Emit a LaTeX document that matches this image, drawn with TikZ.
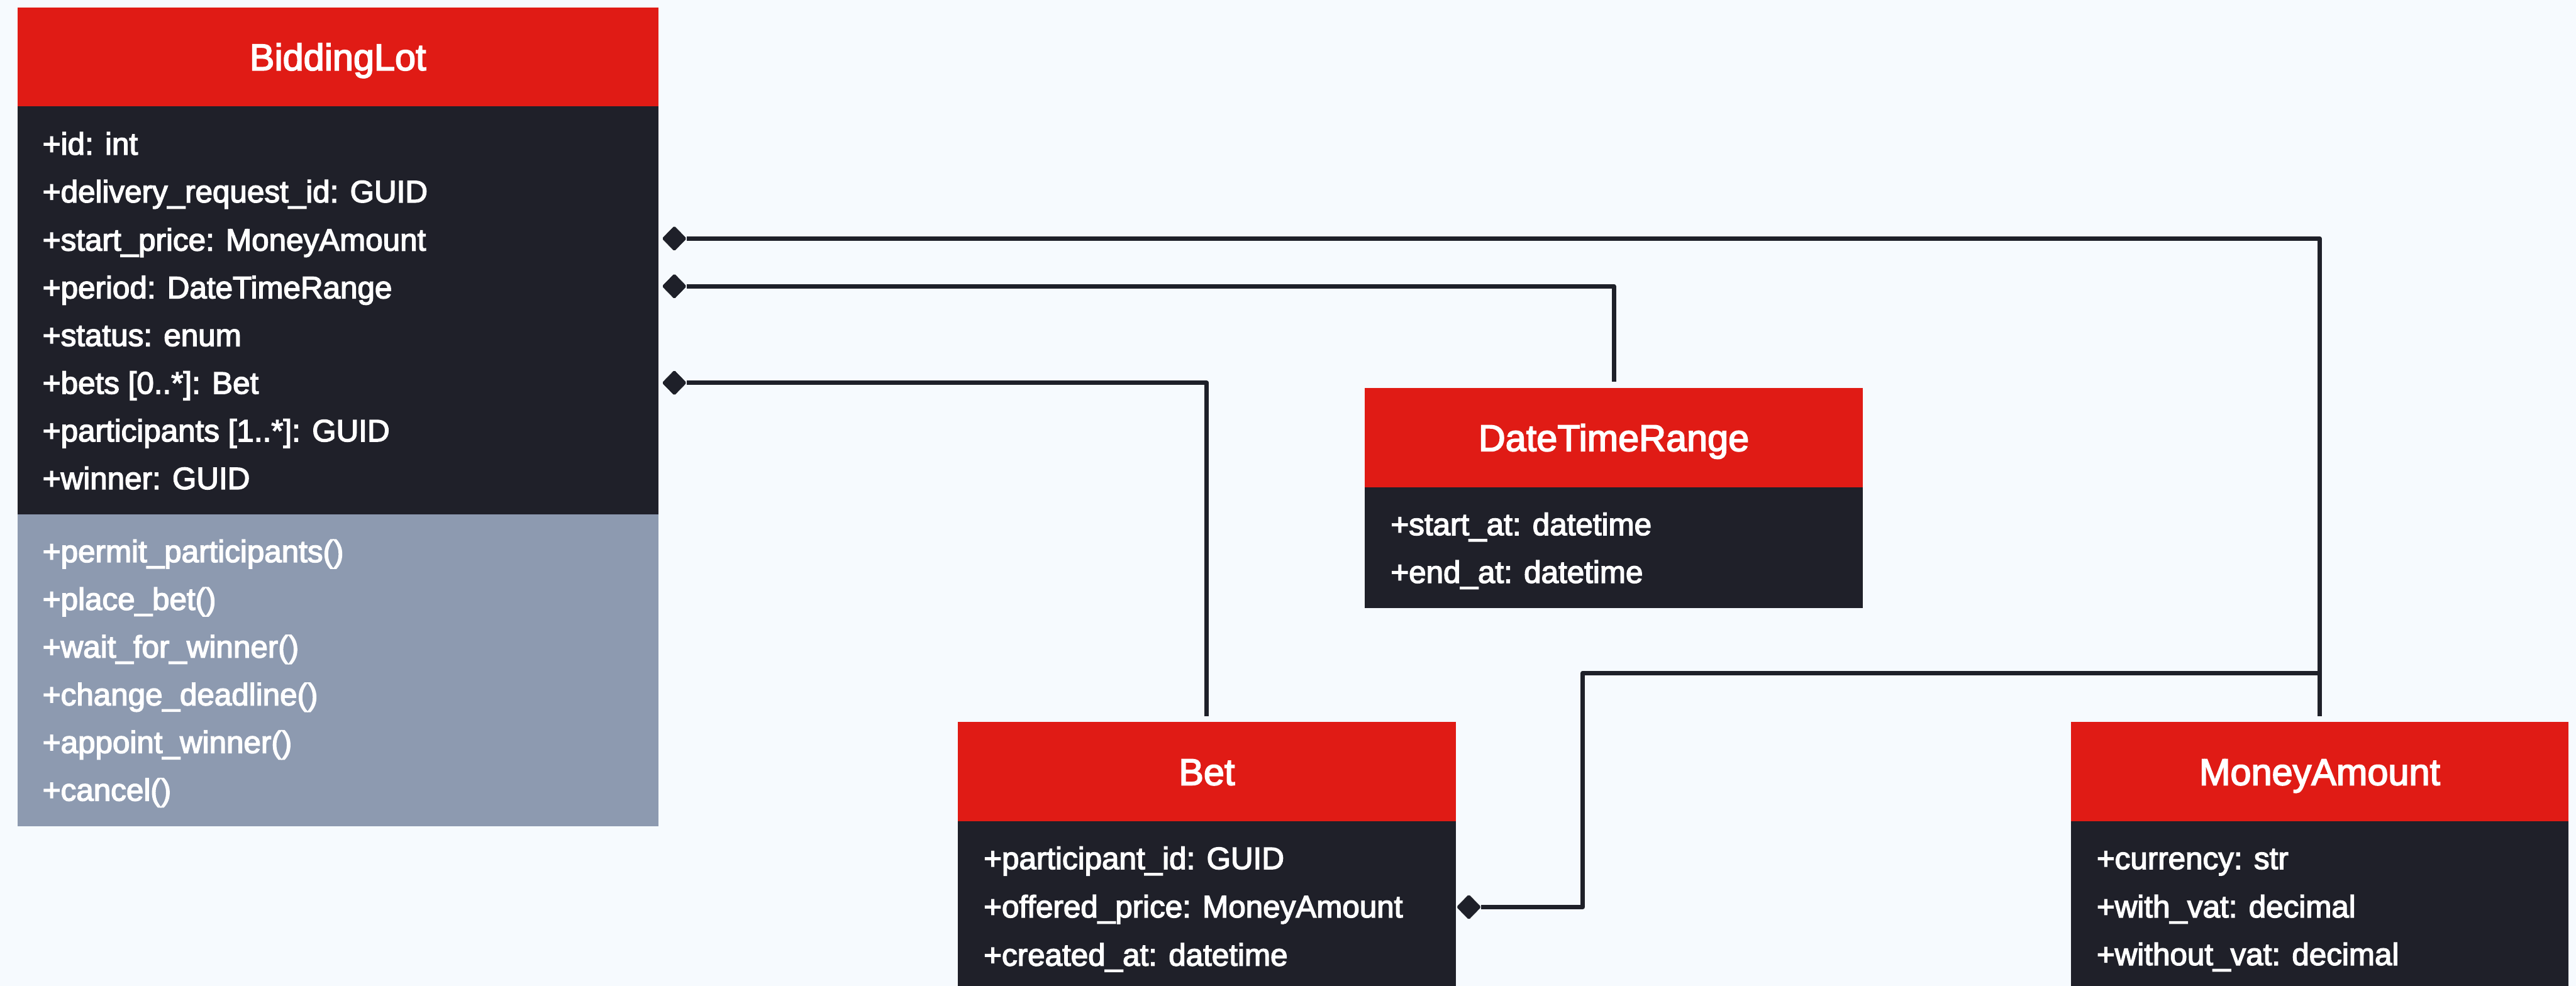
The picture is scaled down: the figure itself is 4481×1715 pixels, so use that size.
\documentclass[tikz,border=0pt]{standalone}
\usepackage{fontspec}
\setmainfont{Liberation Sans}
\newfontfamily\uifont{Liberation Sans}[FakeBold=3]
\usetikzlibrary{shapes.geometric}
\definecolor{bgc}{HTML}{F6FAFE}
\definecolor{hdrred}{HTML}{E01B15}
\definecolor{bodydark}{HTML}{1F2029}
\definecolor{opgrey}{HTML}{8D9AB0}
\definecolor{linec}{HTML}{1E2029}
\begin{document}
\begin{tikzpicture}[x=1pt,y=-1pt,
  hdr/.style={rectangle, fill=hdrred, text=white, inner sep=0pt, anchor=north west,
    minimum height=173pt, text height=46pt, text depth=0pt,
    font=\uifont\fontsize{65}{70}\selectfont},
  bodybox/.style={rectangle, fill=bodydark, inner sep=0pt, anchor=north west},
  opsbox/.style={rectangle, fill=opgrey, inner sep=0pt, anchor=north west},
  attr/.style={anchor=base west, inner sep=0pt, text=white, font=\uifont\fontsize{54}{60}\selectfont},
  dia/.style={diamond, fill=linec, draw=linec, line width=1pt, inner sep=0pt,
    minimum width=42pt, minimum height=43pt, rounded corners=2pt},
  conn/.style={draw=linec, line width=7.7pt, line join=round}]
\useasboundingbox (0,0) rectangle (4481,1715);
\fill[bgc] (0,0) rectangle (4481,1715);
\begin{scope}
\clip (0,0) rectangle (4481,1715);
% BiddingLot
\node[hdr, minimum width=1115pt, minimum height=172pt] (lot) at (30,13) {BiddingLot};
\node[bodybox, minimum width=1115pt, minimum height=710pt] (lotattr) at (30,185) {};
\node[opsbox, minimum width=1115pt, minimum height=542pt] (lotops) at (30,895) {};
\node[attr] (la1) at (74,269) {+id: int};
\node[attr] (la2) at (74,352) {+delivery\_request\_id: GUID};
\node[attr] (la3) at (74,436) {+start\_price: MoneyAmount};
\node[attr] (la4) at (74,519) {+period: DateTimeRange};
\node[attr] (la5) at (74,602) {+status: enum};
\node[attr] (la6) at (74,685) {+bets [0..*]: Bet};
\node[attr] (la7) at (74,768) {+participants [1..*]: GUID};
\node[attr] (la8) at (74,851) {+winner: GUID};
\node[attr] (lo1) at (74,978) {+permit\_participants()};
\node[attr] (lo2) at (74,1061) {+place\_bet()};
\node[attr] (lo3) at (74,1144) {+wait\_for\_winner()};
\node[attr] (lo4) at (74,1227) {+change\_deadline()};
\node[attr] (lo5) at (74,1310) {+appoint\_winner()};
\node[attr] (lo6) at (74,1393) {+cancel()};
% DateTimeRange
\node[hdr, minimum width=866pt] (dtr) at (2374,675) {DateTimeRange};
\node[bodybox, minimum width=866pt, minimum height=210pt] (dtrattr) at (2374,848) {};
\node[attr] (da1) at (2419,931) {+start\_at: datetime};
\node[attr] (da2) at (2419,1014) {+end\_at: datetime};
% Bet
\node[hdr, minimum width=866pt] (bet) at (1666,1256) {Bet};
\node[bodybox, minimum width=866pt, minimum height=400pt] (betattr) at (1666,1429) {};
\node[attr] (ba1) at (1711,1512) {+participant\_id: GUID};
\node[attr] (ba2) at (1711,1596) {+offered\_price: MoneyAmount};
\node[attr] (ba3) at (1711,1680) {+created\_at: datetime};
% MoneyAmount
\node[hdr, minimum width=866pt] (ma) at (3602,1256) {MoneyAmount};
\node[bodybox, minimum width=866pt, minimum height=400pt] (maattr) at (3602,1429) {};
\node[attr] (ma1) at (3647,1512) {+currency: str};
\node[attr] (ma2) at (3647,1596) {+with\_vat: decimal};
\node[attr] (ma3) at (3647,1679) {+without\_vat: decimal};
% composition diamonds
\node[dia] (d1) at (1173,415) {};
\node[dia] (d2) at (1173,498) {};
\node[dia] (d3) at (1173,666) {};
\node[dia] (d4) at (2555,1578) {};
% connectors
\coordinate (k) at (2753,1171);
\coordinate (j) at (ma.north |- k);
\draw[conn, shorten >=10pt] (d1.east) -| (ma.north);
\draw[conn, shorten >=11pt] (d2.east) -| (dtr.north);
\draw[conn, shorten >=10pt] (d3.east) -| (bet.north);
\draw[conn] (d4.east) -| (k) -- (j);
\end{scope}
\end{tikzpicture}
\end{document}
